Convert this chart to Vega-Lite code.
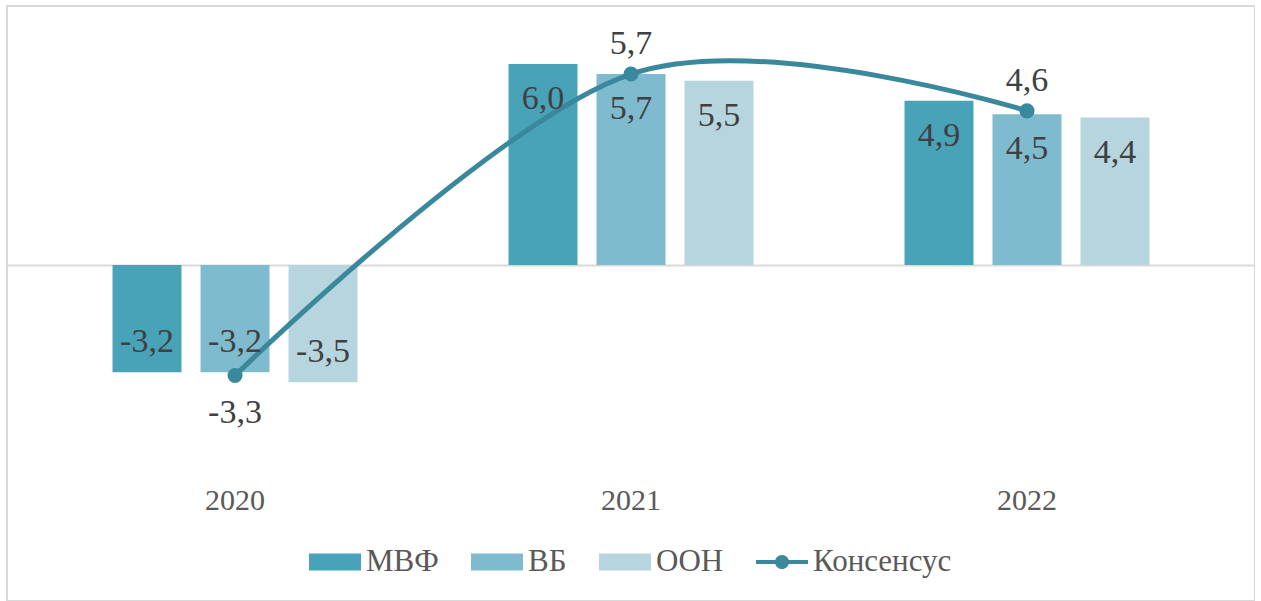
{
  "$schema": "https://vega.github.io/schema/vega-lite/v6.json",
  "width": 1248,
  "height": 595,
  "autosize": {"type": "none"},
  "padding": {"left": 7, "top": 6, "right": 0, "bottom": 0},
  "background": "white",
  "config": {
    "font": "Liberation Serif",
    "text": {"font": "Liberation Serif"},
    "legend": {"labelFont": "Liberation Serif"},
    "axis": {"labelFont": "Liberation Serif"},
    "view": {"stroke": "#d9d9d9", "strokeWidth": 2},
    "locale": {"number": {"decimal": ",", "thousands": " ", "grouping": [3], "currency": ["", ""], "minus": "-"}}
  },
  "datasets": {
    "bars": [
      {"year": "2020", "org": "МВФ", "v": -3.2},
      {"year": "2020", "org": "ВБ", "v": -3.2},
      {"year": "2020", "org": "ООН", "v": -3.5},
      {"year": "2021", "org": "МВФ", "v": 6.0},
      {"year": "2021", "org": "ВБ", "v": 5.7},
      {"year": "2021", "org": "ООН", "v": 5.5},
      {"year": "2022", "org": "МВФ", "v": 4.9},
      {"year": "2022", "org": "ВБ", "v": 4.5},
      {"year": "2022", "org": "ООН", "v": 4.4}
    ],
    "consensus": [
      {"year": "2020", "series": "Консенсус", "v": -3.3},
      {"year": "2021", "series": "Консенсус", "v": 5.7},
      {"year": "2022", "series": "Консенсус", "v": 4.6}
    ]
  },
  "encoding": {
    "x": {
      "field": "year", "type": "nominal",
      "scale": {"paddingInner": 0, "paddingOuter": 0.0758},
      "axis": {
        "orient": "bottom", "offset": -101, "title": null, "domain": false, "ticks": false,
        "labelAngle": 0, "labelBaseline": "middle", "labelPadding": 0,
        "labelFont": "Liberation Serif", "labelFontSize": 30, "labelColor": "#595959"
      }
    },
    "y": {
      "field": "v", "type": "quantitative",
      "scale": {"domain": [-10.03, 7.731], "nice": false, "zero": false},
      "axis": {
        "values": [0], "grid": true, "gridColor": "#d9d9d9", "gridWidth": 2, "gridOpacity": 1,
        "labels": false, "ticks": false, "domain": false, "title": null
      }
    }
  },
  "layer": [
    {
      "data": {"name": "bars"},
      "mark": {"type": "bar"},
      "encoding": {
        "xOffset": {"field": "org", "type": "nominal", "scale": {"domain": ["МВФ", "ВБ", "ООН"], "paddingInner": 0.216, "paddingOuter": 0.858}},
        "color": {
          "field": "org", "type": "nominal",
          "scale": {"domain": ["МВФ", "ВБ", "ООН", "Консенсус"], "range": ["#48a3b9", "#7fbbce", "#b7d5df", "#3a889c"]},
          "legend": {
            "orient": "none", "legendX": 302, "legendY": 530,
            "direction": "horizontal", "columns": 4, "columnPadding": 32,
            "title": null, "symbolSize": 2704, "labelOffset": 5, "labelLimit": 400,
            "labelFont": "Liberation Serif", "labelFontSize": 31, "labelColor": "#595959",
            "encode": {
              "symbols": {
                "update": {
                  "shape": {"signal": "datum.value === 'Консенсус' ? 'M-1,-0.08H1V0.08H-1Z M0.27,0 A0.27,0.27 0 1,1 -0.27,0 A0.27,0.27 0 1,1 0.27,0Z' : 'M-1,-0.33H1V0.33H-1Z'"},
                  "fill": {"scale": "color", "field": "value"},
                  "strokeWidth": {"value": 0},
                  "opacity": {"value": 1}
                }
              }
            }
          }
        }
      }
    },
    {
      "data": {"name": "consensus"},
      "mark": {"type": "line", "interpolate": "cardinal", "color": "#3a889c", "strokeWidth": 5},
      "encoding": {}
    },
    {
      "data": {"name": "consensus"},
      "mark": {"type": "circle", "color": "#3a889c", "size": 227, "opacity": 1},
      "encoding": {}
    },
    {
      "data": {"name": "bars"},
      "transform": [{"filter": "datum.v >= 0"}],
      "mark": {"type": "text", "font": "Liberation Serif", "dy": 35, "baseline": "middle", "fontSize": 34, "color": "#404040"},
      "encoding": {
        "xOffset": {"field": "org", "type": "nominal", "scale": {"domain": ["МВФ", "ВБ", "ООН"], "paddingInner": 0.216, "paddingOuter": 0.858}},
        "text": {"field": "v", "type": "quantitative", "format": ".1f"}
      }
    },
    {
      "data": {"name": "bars"},
      "transform": [{"filter": "datum.v < 0"}],
      "mark": {"type": "text", "font": "Liberation Serif", "dy": -30, "baseline": "middle", "fontSize": 34, "color": "#404040"},
      "encoding": {
        "xOffset": {"field": "org", "type": "nominal", "scale": {"domain": ["МВФ", "ВБ", "ООН"], "paddingInner": 0.216, "paddingOuter": 0.858}},
        "text": {"field": "v", "type": "quantitative", "format": ".1f"}
      }
    },
    {
      "data": {"name": "consensus"},
      "transform": [{"filter": "datum.v >= 0"}],
      "mark": {"type": "text", "font": "Liberation Serif", "dy": -30, "baseline": "middle", "fontSize": 34, "color": "#404040"},
      "encoding": {"text": {"field": "v", "type": "quantitative", "format": ".1f"}}
    },
    {
      "data": {"name": "consensus"},
      "transform": [{"filter": "datum.v < 0"}],
      "mark": {"type": "text", "font": "Liberation Serif", "dy": 37, "baseline": "middle", "fontSize": 34, "color": "#404040"},
      "encoding": {"text": {"field": "v", "type": "quantitative", "format": ".1f"}}
    }
  ]
}
